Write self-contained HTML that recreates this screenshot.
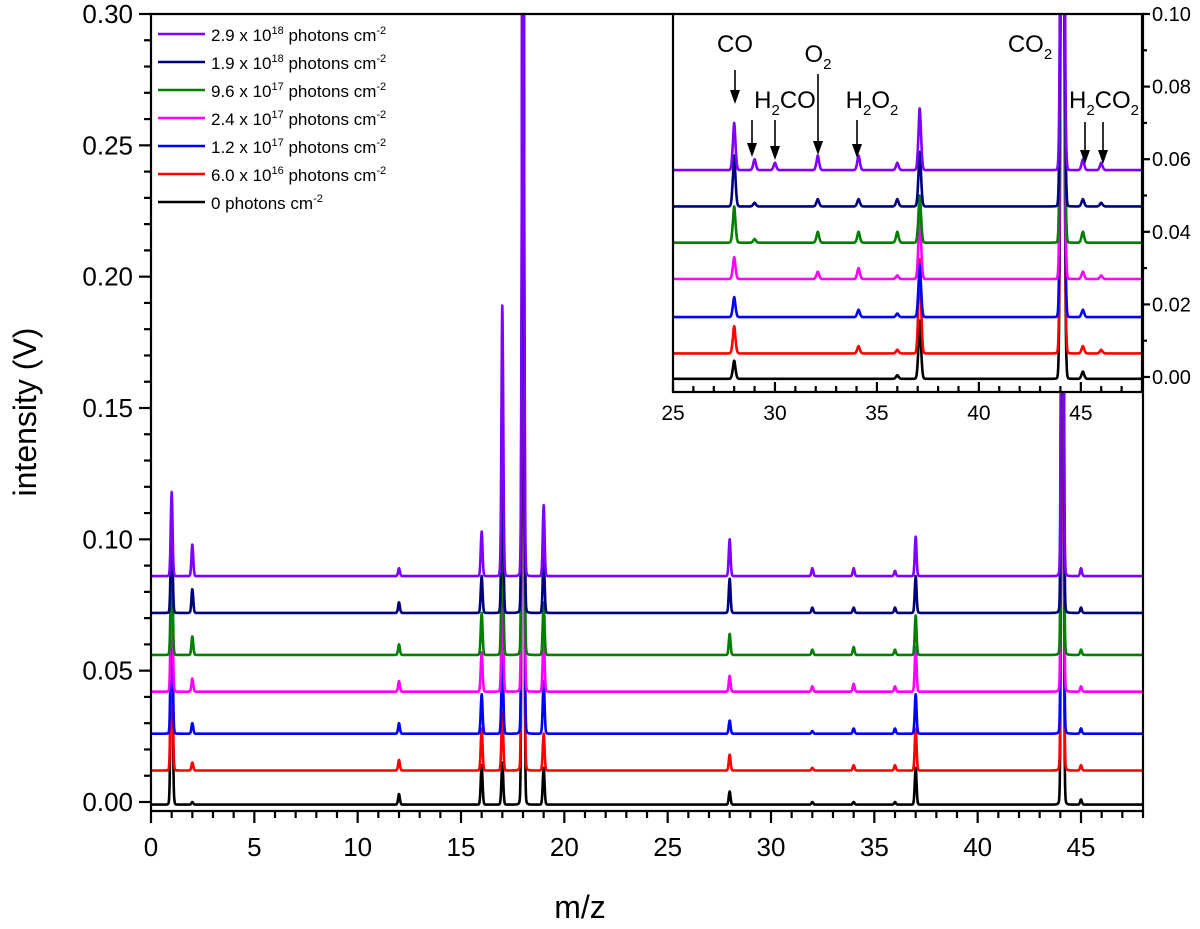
<!DOCTYPE html>
<html><head><meta charset="utf-8"><style>
html,body{margin:0;padding:0;background:#fff;}
svg text{font-family:"Liberation Sans",Arial,sans-serif;}
</style></head><body>
<svg id="chart" width="1200" height="924" viewBox="0 0 1200 924" xmlns="http://www.w3.org/2000/svg">
<defs>
<clipPath id="mainClip"><rect x="151" y="14" width="992" height="797"/></clipPath>
<clipPath id="insetClip"><rect x="673" y="14" width="469" height="378"/></clipPath>
</defs>
<g id="main-series" clip-path="url(#mainClip)"></g>
<rect x="673" y="14" width="469" height="378" fill="#fff"/>
<g id="inset-series" clip-path="url(#insetClip)"></g>
<g id="axes"></g>
<text transform="translate(36,412) rotate(-90)" text-anchor="middle" font-size="32">intensity (V)</text>
<text x="580" y="918" text-anchor="middle" font-size="32">m/z</text>
<g id="legend"></g>
<g id="annotations" font-size="24"></g>
</svg>
<script>
const colors = ['#000000','#ff0000','#0000ff','#ff00ff','#007f00','#00007f','#7f00ff'];
const legendLabels = [
 ['0',''],['6.0 x 10','16'],['1.2 x 10','17'],['2.4 x 10','17'],['9.6 x 10','17'],['1.9 x 10','18'],['2.9 x 10','18']];
// main plot data
const mainPeakMz = [1, 2, 12, 16, 17, 18, 19, 28, 32, 34, 36, 37, 44.1, 45];
const mainBaselines = [-0.001, 0.012, 0.026, 0.042, 0.056, 0.072, 0.086];
const mainHeights = [
 [0.100,0.001,0.004,0.015,0.016,0.4,0.014,0.005,0.001,0.001,0.001,0.014,0.4,0.002],
 [0.080,0.003,0.004,0.016,0.022,0.4,0.014,0.006,0.001,0.002,0.002,0.016,0.4,0.002],
 [0.070,0.004,0.004,0.015,0.030,0.4,0.020,0.005,0.001,0.002,0.002,0.015,0.4,0.002],
 [0.060,0.005,0.004,0.015,0.040,0.4,0.022,0.006,0.002,0.003,0.002,0.017,0.4,0.002],
 [0.050,0.007,0.004,0.016,0.060,0.4,0.020,0.008,0.002,0.003,0.002,0.015,0.4,0.002],
 [0.040,0.009,0.004,0.014,0.070,0.4,0.022,0.013,0.002,0.002,0.002,0.014,0.4,0.002],
 [0.032,0.012,0.003,0.017,0.103,0.4,0.027,0.014,0.003,0.003,0.002,0.015,0.4,0.003]];
// inset data
const insetPeakMz = [28, 29, 30, 32.1, 34.1, 36, 37.1, 44.1, 45.1, 46];
const insetBaselines = [-0.0005, 0.0065, 0.0165, 0.027, 0.037, 0.047, 0.057];
const insetHeights = [
 [0.005,0.000,0.000,0.000,0.000,0.001,0.016,0.3,0.002,0.000],
 [0.0075,0.000,0.000,0.000,0.002,0.001,0.026,0.3,0.002,0.001],
 [0.0055,0.000,0.000,0.000,0.002,0.001,0.0145,0.3,0.002,0.000],
 [0.006,0.000,0.000,0.002,0.003,0.001,0.018,0.3,0.002,0.001],
 [0.010,0.001,0.000,0.003,0.003,0.003,0.013,0.3,0.003,0.000],
 [0.014,0.001,0.000,0.002,0.002,0.002,0.015,0.3,0.002,0.001],
 [0.013,0.003,0.002,0.004,0.004,0.002,0.017,0.3,0.003,0.002]];
const mainXTicks = [0,5,10,15,20,25,30,35,40,45];
const mainYTicks = ['0.00','0.05','0.10','0.15','0.20','0.25','0.30'];
const insetXTicks = [25,30,35,40,45];
const insetYTicks = ['0.00','0.02','0.04','0.06','0.08','0.10'];

const NS='http://www.w3.org/2000/svg';
function mk(tag, attrs, parent){const e=document.createElementNS(NS,tag);for(const k in attrs)e.setAttribute(k,attrs[k]);parent.appendChild(e);return e;}
const mx = v => 151 + v*(1143-151)/48;
const my = v => 802 - v*(802-14)/0.30;
const ix = v => 673 + (v-25)*(1142-673)/23;
const iy = v => 377 - v*(377-14)/0.10;

function spectrum(mzs, hs, base, x0, x1, sig, step){
  const pts=[];
  for(let x=x0;x<=x1+1e-9;x+=step){
    let y=base;
    for(let i=0;i<mzs.length;i++){
      const d=x-mzs[i];
      if(Math.abs(d)>2) continue;
      const g=Math.exp(-d*d/(2*sig*sig));
      const l=1/(1+(d/0.06)*(d/0.06));
      y+=hs[i]*(0.8*g+0.2*l*l);
    }
    pts.push([x,y]);
  }
  return pts;
}
const mainG=document.getElementById('main-series');
for(let s=0;s<7;s++){
  const pts=spectrum(mainPeakMz, mainHeights[s], mainBaselines[s], 0, 48, 0.045, 0.01);
  const p=mk('path',{d:'M'+pts.map(q=>mx(q[0]).toFixed(1)+','+Math.max(-50,my(q[1])).toFixed(1)).join('L'),fill:'none',stroke:colors[s],'stroke-width':2.6,'stroke-linejoin':'round'},mainG);
  
  
}
const insetG=document.getElementById('inset-series');
for(let s=0;s<7;s++){
  const pts=spectrum(insetPeakMz, insetHeights[s], insetBaselines[s], 25, 48, 0.07, 0.01);
  const p=mk('path',{d:'M'+pts.map(q=>ix(q[0]).toFixed(1)+','+Math.max(-50,iy(q[1])).toFixed(1)).join('L'),fill:'none',stroke:colors[s],'stroke-width':2.6,'stroke-linejoin':'round'},insetG);
  
  
}
const ax=document.getElementById('axes');
const lw={stroke:'#000','stroke-width':2.2,fill:'none'};
mk('path',Object.assign({d:'M151,14 L1143,14 L1143,811 L151,811 Z'},lw),ax);
for(let v=0;v<=48;v++){
  const major=v%5===0;
  mk('line',Object.assign({x1:mx(v),x2:mx(v),y1:811,y2:811+(major?12:7)},lw),ax);
}
mainXTicks.forEach(v=>{const t=mk('text',{x:mx(v),y:856,'text-anchor':'middle','font-size':26},ax);t.textContent=v;
 });
for(let i=0;i<=30;i++){
  const v=i/100, major=i%5===0;
  mk('line',Object.assign({x1:151,x2:151-(major?12:7),y1:my(v),y2:my(v)},lw),ax);
}
mainYTicks.forEach(s=>{const t=mk('text',{x:133,y:my(parseFloat(s))+9,'text-anchor':'end','font-size':26},ax);t.textContent=s;
 });
mk('path',Object.assign({d:'M673,14 L673,392 L1142,392 L1142,14'},lw),ax);
for(let v=25;v<=48;v++){
  const major=v%5===0;
  mk('line',Object.assign({x1:ix(v),x2:ix(v),y1:392,y2:392-(major?10:6)},lw),ax);
}
insetXTicks.forEach(v=>{const t=mk('text',{x:ix(v),y:420,'text-anchor':'middle','font-size':21},ax);t.textContent=v;
 });
for(let i=0;i<=10;i++){
  const v=i/100, major=i%2===0;
  mk('line',Object.assign({x1:1142,x2:1142+(major?8:5),y1:iy(v),y2:iy(v)},lw),ax);
}
insetYTicks.forEach(s=>{const t=mk('text',{x:1152,y:iy(parseFloat(s))+7,'font-size':20},ax);t.textContent=s;
 });
const lg=document.getElementById('legend');
for(let r=0;r<7;r++){
  const s=6-r, y=34+r*28;
  mk('line',{x1:158,x2:205,y1:y,y2:y,stroke:colors[s],'stroke-width':2.6},lg);
  const t=mk('text',{x:211,y:y+7,'font-size':17},lg);
  
  
  const lab=legendLabels[s];
  if(lab[1]){
    t.appendChild(document.createTextNode(lab[0]));
    const sp=document.createElementNS(NS,'tspan');sp.setAttribute('dy','-7');sp.setAttribute('font-size','11');sp.textContent=lab[1];t.appendChild(sp);
    const sp2=document.createElementNS(NS,'tspan');sp2.setAttribute('dy','7');sp2.textContent=' photons cm';t.appendChild(sp2);
  } else {
    t.appendChild(document.createTextNode('0  photons cm'));
  }
  const sp3=document.createElementNS(NS,'tspan');sp3.setAttribute('dy','-7');sp3.setAttribute('font-size','11');sp3.textContent='-2';t.appendChild(sp3);
}
const an=document.getElementById('annotations');
function arrow(x,y1,y2){
  mk('line',{x1:x,x2:x,y1:y1,y2:y2-10,stroke:'#000','stroke-width':1.6},an);
  mk('path',{d:`M${x-5},${y2-14} L${x+5},${y2-14} L${x},${y2} Z`,fill:'#000'},an);
}
function label(x,y,parts){
  const t=mk('text',{x:x,y:y,'text-anchor':'middle'},an);
  
  
  parts.forEach(p=>{const sp=document.createElementNS(NS,'tspan');sp.textContent=p[0];
    if(p[1]){sp.setAttribute('font-size','15');sp.setAttribute('dy','7');}
    else if(p[2]){sp.setAttribute('dy','-7');}
    t.appendChild(sp);});
}
label(735,52,[['CO']]);
arrow(735,70,104);
label(785,108,[['H'],['2',1],['CO',0,1]]);
arrow(752,120,157); arrow(775,120,160);
label(818,62,[['O'],['2',1]]);
arrow(818,74,155);
label(872,108,[['H'],['2',1],['O',0,1],['2',1]]);
arrow(857,120,158);
label(1030,52,[['CO'],['2',1]]);
label(1104,108,[['H'],['2',1],['CO',0,1],['2',1]]);
arrow(1085,122,164); arrow(1103,122,164);
</script>
</body></html>
